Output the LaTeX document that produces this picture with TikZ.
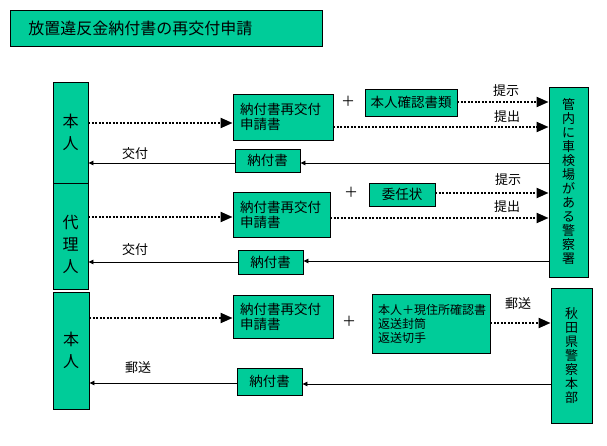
\documentclass[tikz,border=0pt]{standalone}
\usepackage{fontspec}
\setmainfont{Noto Sans CJK JP}
\usetikzlibrary{arrows.meta}
\definecolor{boxgreen}{RGB}{0,204,153}
\begin{document}
\begin{tikzpicture}[x=1pt,y=-1pt,
  box/.style={draw=black, fill=boxgreen, line width=0.9pt, inner sep=0pt},
  big/.style={font=\fontsize{16}{22}\selectfont, align=center},
  mid/.style={font=\fontsize{13.5}{15}\selectfont},
  vert/.style={font=\fontsize{13}{14}\selectfont, align=center},
  lbl/.style={font=\fontsize{13}{15}\selectfont, inner sep=0pt},
  plus/.style={font=\fontsize{14}{14}\selectfont, inner sep=0pt},
  dotarrow/.style={line width=2pt, dash pattern=on 2pt off 1.5pt, -{Triangle[length=12pt,width=10pt]}},
  retarrow/.style={line width=0.9pt, -{Triangle[length=5pt,width=4.5pt]}}]
\useasboundingbox (0,0) rectangle (607,446);

% title
\node[box, anchor=north west, minimum height=36pt, text width=276pt, inner xsep=18pt, align=left,
  font=\fontsize{16}{18}\selectfont] (title) at (10,10) {放置違反金納付書の再交付申請};

% left persons
\node[box, big, minimum width=35pt, minimum height=101pt] (hon1) at (70.5,132.5) {本\\人};
\node[box, minimum width=35pt, minimum height=106pt,
  label={[big, yshift=-8pt]center:代\\理\\人}] (dairi) at (70.5,236) {};
\node[box, big, minimum width=36pt, minimum height=117pt] (hon2) at (71,350.5) {本\\人};

% application boxes
\node[box, mid, minimum width=100pt, minimum height=46pt, text width=86pt, inner xsep=7pt, align=left] (app1) at (283,117) {納付書再交付\\申請書};
\node[box, mid, minimum width=97pt, minimum height=45pt, text width=83pt, inner xsep=7pt, align=left] (app2) at (281.5,214.5) {納付書再交付\\申請書};
\node[box, mid, minimum width=100pt, minimum height=43pt, text width=86pt, inner xsep=7pt, align=left] (app3) at (283,316.5) {納付書再交付\\申請書};

% 納付書 boxes
\node[box, mid, minimum width=65pt, minimum height=23pt] (nou1) at (267.5,160.5) {納付書};
\node[box, mid, minimum width=65pt, minimum height=24pt] (nou2) at (270.5,262) {納付書};
\node[box, mid, minimum width=65pt, minimum height=27pt] (nou3) at (269.5,381.5) {納付書};

% attachments
\node[box, mid, minimum width=92pt, minimum height=27pt] (kakunin) at (411,102.5) {本人確認書類};
\node[box, mid, minimum width=66pt, minimum height=23pt] (inin) at (402,194.5) {委任状};
\node[box, font=\fontsize{12}{14}\selectfont, minimum width=118pt, minimum height=59pt, text width=106pt, inner xsep=6pt, align=left] (yuso) at (431,323.5) {本人＋現住所確認書\\返送封筒\\返送切手};

% plus signs
\node[plus] (p1) at (348,101) {＋};
\node[plus] (p2) at (351,192) {＋};
\node[plus] (p3) at (349,321) {＋};

% offices
\node[box, vert, minimum width=39pt, minimum height=190pt] (keisatsu) at (568.5,182) {管\\内\\に\\車\\検\\場\\が\\あ\\る\\警\\察\\署};
\node[box, vert, minimum width=41pt, minimum height=135pt] (honbu) at (571.5,355.5) {秋\\田\\県\\警\\察\\本\\部};

% row 1
\draw[dotarrow] (hon1.east |- 0,123) -- (app1.west |- 0,123);
\draw[dotarrow] (kakunin.east |- 0,102) -- (keisatsu.west |- 0,102);
\draw[dotarrow] (app1.east |- 0,127) -- (keisatsu.west |- 0,127);
\draw[retarrow] (keisatsu.west |- 0,163) -- (nou1.east |- 0,163);
\draw[retarrow] (nou1.west |- 0,163) -- (hon1.east |- 0,163);
\node[lbl] (l1) at (506,91) {提示};
\node[lbl] (l2) at (507,117) {提出};
\node[lbl] (l3) at (135,154) {交付};

% row 2
\draw[dotarrow] (dairi.east |- 0,217) -- (app2.west |- 0,217);
\draw[dotarrow] (inin.east |- 0,193) -- (keisatsu.west |- 0,193);
\draw[dotarrow] (app2.east |- 0,218) -- (keisatsu.west |- 0,218);
\draw[retarrow] (keisatsu.west |- 0,261) -- (nou2.east |- 0,261);
\draw[retarrow] (nou2.west |- 0,262) -- (dairi.east |- 0,262);
\node[lbl] (l4) at (508,180) {提示};
\node[lbl] (l5) at (507,207) {提出};
\node[lbl] (l6) at (135,250) {交付};

% row 3
\draw[dotarrow] (hon2.east |- 0,318) -- (app3.west |- 0,318);
\draw[dotarrow] (yuso.east |- 0,323) -- (honbu.west |- 0,323);
\draw[retarrow] (honbu.west |- 0,384) -- (nou3.east |- 0,384);
\draw[retarrow] (nou3.west |- 0,383) -- (hon2.east |- 0,383);
\node[lbl] (l7) at (518,304) {郵送};
\node[lbl] (l8) at (138,368) {郵送};
\end{tikzpicture}
\end{document}
